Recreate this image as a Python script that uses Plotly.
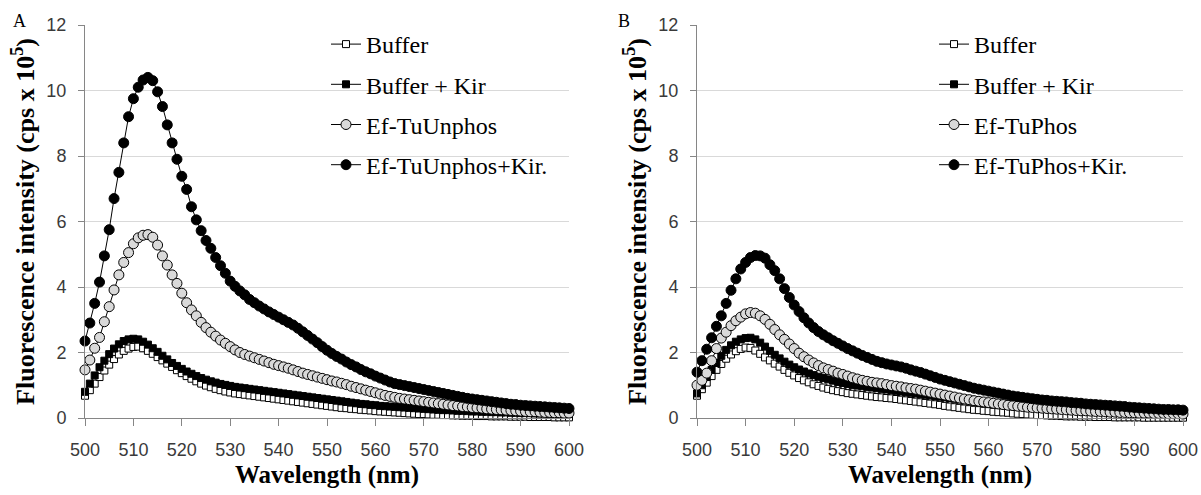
import plotly.graph_objects as go

# ---------------- data ----------------
wavelength = list(range(500, 601))

# Panel A
a_buffer = [0.68, 0.85, 1.05, 1.25, 1.45, 1.63, 1.80, 1.94, 2.05, 2.12, 2.17, 2.18, 2.13, 2.05, 1.96, 1.86, 1.76, 1.66, 1.56, 1.46,
            1.37, 1.28, 1.20, 1.12, 1.05, 0.99, 0.94, 0.89, 0.85, 0.81, 0.78, 0.75, 0.73, 0.71, 0.69, 0.67, 0.65, 0.63, 0.61, 0.59,
            0.57, 0.55, 0.53, 0.51, 0.49, 0.47, 0.45, 0.43, 0.41, 0.39, 0.37, 0.35, 0.33, 0.31, 0.30, 0.28, 0.27, 0.25, 0.24, 0.23,
            0.21, 0.20, 0.19, 0.18, 0.17, 0.16, 0.15, 0.14, 0.13, 0.12, 0.12, 0.11, 0.10, 0.10, 0.09, 0.09, 0.08, 0.08, 0.07, 0.07,
            0.07, 0.06, 0.06, 0.06, 0.05, 0.05, 0.05, 0.05, 0.04, 0.04, 0.04, 0.04, 0.03, 0.03, 0.03, 0.03, 0.03, 0.02, 0.02, 0.02,
            0.02]
a_buffer_kir = [0.80, 1.05, 1.30, 1.55, 1.75, 1.95, 2.12, 2.25, 2.35, 2.40, 2.42, 2.40, 2.33, 2.24, 2.13, 2.02, 1.90, 1.79, 1.68, 1.59,
                1.50, 1.42, 1.35, 1.28, 1.22, 1.17, 1.12, 1.08, 1.04, 1.01, 0.98, 0.95, 0.93, 0.91, 0.89, 0.87, 0.85, 0.83, 0.81, 0.79,
                0.77, 0.75, 0.73, 0.71, 0.69, 0.67, 0.65, 0.63, 0.61, 0.59, 0.57, 0.55, 0.53, 0.51, 0.49, 0.47, 0.45, 0.43, 0.42, 0.40,
                0.39, 0.37, 0.36, 0.35, 0.34, 0.33, 0.32, 0.31, 0.30, 0.29, 0.28, 0.27, 0.26, 0.25, 0.24, 0.24, 0.23, 0.22, 0.22, 0.21,
                0.20, 0.20, 0.19, 0.19, 0.18, 0.18, 0.17, 0.17, 0.16, 0.16, 0.15, 0.15, 0.15, 0.14, 0.14, 0.14, 0.13, 0.13, 0.13, 0.12,
                0.12]
a_eftu = [1.47, 1.77, 2.13, 2.46, 2.94, 3.40, 3.91, 4.37, 4.75, 5.05, 5.32, 5.50, 5.58, 5.60, 5.52, 5.28, 4.95, 4.67, 4.37, 4.11,
          3.81, 3.52, 3.30, 3.12, 2.92, 2.76, 2.62, 2.50, 2.38, 2.28, 2.18, 2.08, 2.00, 1.94, 1.89, 1.84, 1.79, 1.74, 1.69, 1.64,
          1.60, 1.56, 1.52, 1.47, 1.42, 1.37, 1.33, 1.29, 1.25, 1.21, 1.17, 1.13, 1.10, 1.06, 1.02, 0.97, 0.93, 0.89, 0.85, 0.81,
          0.77, 0.73, 0.69, 0.66, 0.63, 0.60, 0.58, 0.56, 0.54, 0.52, 0.50, 0.48, 0.46, 0.44, 0.42, 0.40, 0.38, 0.37, 0.35, 0.34,
          0.32, 0.31, 0.30, 0.28, 0.27, 0.26, 0.25, 0.24, 0.23, 0.22, 0.21, 0.20, 0.19, 0.19, 0.18, 0.17, 0.17, 0.16, 0.16, 0.15,
          0.15]
a_eftu_kir = [2.35, 2.90, 3.50, 4.15, 4.95, 5.75, 6.70, 7.50, 8.40, 9.20, 9.75, 10.10, 10.32, 10.40, 10.30, 9.96, 9.51, 8.95, 8.40, 7.90,
              7.38, 6.98, 6.45, 6.05, 5.72, 5.42, 5.18, 4.90, 4.65, 4.42, 4.18, 4.02, 3.88, 3.76, 3.62, 3.52, 3.42, 3.33, 3.24, 3.16,
              3.08, 3.00, 2.92, 2.84, 2.74, 2.63, 2.52, 2.41, 2.30, 2.18, 2.07, 1.97, 1.88, 1.80, 1.71, 1.63, 1.56, 1.48, 1.41, 1.35,
              1.28, 1.22, 1.16, 1.10, 1.05, 1.02, 0.99, 0.96, 0.93, 0.90, 0.87, 0.84, 0.81, 0.78, 0.75, 0.72, 0.69, 0.66, 0.63, 0.60,
              0.58, 0.56, 0.54, 0.52, 0.50, 0.48, 0.46, 0.44, 0.42, 0.41, 0.39, 0.38, 0.37, 0.36, 0.35, 0.34, 0.33, 0.32, 0.31, 0.30,
              0.29]

# Panel B
b_buffer = [0.68, 0.88, 1.08, 1.28, 1.47, 1.65, 1.81, 1.94, 2.04, 2.11, 2.15, 2.14, 2.06, 1.96, 1.85, 1.76, 1.66, 1.57, 1.47, 1.38,
            1.30, 1.22, 1.15, 1.09, 1.03, 0.98, 0.93, 0.89, 0.85, 0.82, 0.79, 0.76, 0.74, 0.72, 0.70, 0.68, 0.66, 0.64, 0.63, 0.61,
            0.60, 0.58, 0.56, 0.54, 0.52, 0.50, 0.48, 0.46, 0.44, 0.42, 0.40, 0.37, 0.35, 0.33, 0.31, 0.29, 0.27, 0.25, 0.24, 0.22,
            0.21, 0.19, 0.18, 0.17, 0.16, 0.14, 0.13, 0.12, 0.11, 0.10, 0.09, 0.09, 0.08, 0.07, 0.07, 0.06, 0.05, 0.05, 0.05, 0.04,
            0.04, 0.04, 0.03, 0.03, 0.03, 0.03, 0.02, 0.02, 0.02, 0.02, 0.02, 0.02, 0.01, 0.01, 0.01, 0.01, 0.01, 0.01, 0.01, 0.01,
            0.01]
b_buffer_kir = [0.75, 1.00, 1.25, 1.47, 1.68, 1.90, 2.08, 2.22, 2.33, 2.40, 2.44, 2.45, 2.40, 2.30, 2.18, 2.05, 1.93, 1.82, 1.72, 1.63,
                1.55, 1.48, 1.42, 1.36, 1.31, 1.26, 1.22, 1.18, 1.14, 1.10, 1.07, 1.04, 1.01, 0.99, 0.97, 0.95, 0.93, 0.91, 0.89, 0.87,
                0.85, 0.83, 0.81, 0.79, 0.77, 0.75, 0.73, 0.71, 0.69, 0.67, 0.65, 0.63, 0.61, 0.59, 0.57, 0.55, 0.53, 0.51, 0.49, 0.47,
                0.45, 0.44, 0.42, 0.41, 0.39, 0.38, 0.37, 0.35, 0.34, 0.33, 0.32, 0.31, 0.30, 0.29, 0.28, 0.27, 0.27, 0.26, 0.25, 0.24,
                0.24, 0.23, 0.22, 0.22, 0.21, 0.21, 0.20, 0.20, 0.19, 0.19, 0.18, 0.18, 0.17, 0.17, 0.17, 0.16, 0.16, 0.16, 0.15, 0.15,
                0.15]
b_eftu = [1.00, 1.15, 1.37, 1.75, 2.12, 2.44, 2.62, 2.82, 2.97, 3.08, 3.18, 3.22, 3.20, 3.12, 3.01, 2.86, 2.70, 2.54, 2.40, 2.26,
          2.12, 1.98, 1.87, 1.77, 1.68, 1.60, 1.53, 1.48, 1.43, 1.37, 1.33, 1.28, 1.23, 1.19, 1.15, 1.12, 1.09, 1.07, 1.05, 1.02,
          0.99, 0.97, 0.95, 0.92, 0.90, 0.88, 0.85, 0.82, 0.79, 0.76, 0.73, 0.70, 0.67, 0.64, 0.61, 0.58, 0.56, 0.53, 0.51, 0.49,
          0.47, 0.45, 0.43, 0.41, 0.39, 0.38, 0.36, 0.35, 0.33, 0.32, 0.31, 0.30, 0.29, 0.28, 0.27, 0.26, 0.25, 0.24, 0.23, 0.22,
          0.22, 0.21, 0.20, 0.20, 0.19, 0.18, 0.18, 0.17, 0.17, 0.16, 0.16, 0.15, 0.15, 0.15, 0.14, 0.14, 0.14, 0.13, 0.13, 0.13,
          0.12]
b_eftu_kir = [1.40, 1.75, 2.10, 2.45, 2.80, 3.12, 3.50, 3.90, 4.25, 4.55, 4.75, 4.90, 4.96, 4.95, 4.88, 4.68, 4.50, 4.25, 3.95, 3.68,
              3.45, 3.25, 3.06, 2.90, 2.76, 2.64, 2.54, 2.45, 2.36, 2.28, 2.20, 2.12, 2.05, 1.98, 1.91, 1.85, 1.79, 1.73, 1.69, 1.65,
              1.62, 1.59, 1.56, 1.52, 1.47, 1.43, 1.39, 1.34, 1.29, 1.24, 1.19, 1.15, 1.11, 1.07, 1.03, 0.99, 0.95, 0.91, 0.88, 0.85,
              0.82, 0.79, 0.76, 0.73, 0.70, 0.67, 0.65, 0.63, 0.61, 0.59, 0.57, 0.55, 0.54, 0.52, 0.51, 0.50, 0.49, 0.47, 0.46, 0.45,
              0.43, 0.42, 0.41, 0.40, 0.39, 0.38, 0.37, 0.36, 0.35, 0.33, 0.32, 0.31, 0.30, 0.29, 0.28, 0.27, 0.26, 0.26, 0.25, 0.25,
              0.24]

names_a = ["Buffer", "Buffer + Kir", "Ef-TuUnphos", "Ef-TuUnphos+Kir."]
names_b = ["Buffer", "Buffer + Kir", "Ef-TuPhos", "Ef-TuPhos+Kir."]

x_ticks = [500, 510, 520, 530, 540, 550, 560, 570, 580, 590, 600]
y_ticks = [0, 2, 4, 6, 8, 10, 12]

# ---------------- styles ----------------
styles = [
    dict(symbol="square", size=7, color="white"),
    dict(symbol="square", size=7, color="black"),
    dict(symbol="circle", size=10, color="#d9d9d9"),
    dict(symbol="circle", size=10, color="black"),
]

fig = go.Figure()

panels = [
    ("x", "y", "legend", names_a, [a_buffer, a_buffer_kir, a_eftu, a_eftu_kir], "A"),
    ("x2", "y2", "legend2", names_b, [b_buffer, b_buffer_kir, b_eftu, b_eftu_kir], "B"),
]
for xa, ya, leg, names, series, tag in panels:
    for i, (nm, vals) in enumerate(zip(names, series)):
        st = styles[i]
        fig.add_trace(go.Scatter(
            x=wavelength, y=vals, name=nm, mode="lines+markers",
            xaxis=xa, yaxis=ya, legend=leg, legendgroup=f"{tag}{i}",
            cliponaxis=False,
            line=dict(color="black", width=1),
            marker=dict(symbol=st["symbol"], size=st["size"], color=st["color"],
                        line=dict(color="black", width=1)),
        ))

W, H = 1201, 495
ml, mr, mt, mb = 85, 18, 25, 77
pw = W - ml - mr
ph = H - mt - mb

SERIF = "Liberation Serif"
tick_font = dict(family="Liberation Sans", size=18, color="#3a3a3a")
title_font = dict(family=SERIF, size=25, color="black")
ytitle_font = dict(family=SERIF, size=26, color="black")
leg_font = dict(family=SERIF, size=24, color="black")

def xaxis_cfg(domain):
    return dict(
        domain=domain, range=[500, 600], tickvals=x_ticks, ticktext=[str(v) for v in x_ticks],
        showgrid=False, zeroline=False, showline=True, linecolor="#868686", linewidth=1,
        ticks="outside", ticklen=7, tickcolor="#868686", tickfont=tick_font,
        ticklabelstandoff=8,
        title=dict(text="<b>Wavelength (nm)</b>", font=title_font, standoff=6),
    )

def yaxis_cfg(anchor):
    return dict(
        anchor=anchor, domain=[0, 1], range=[0, 12], tickvals=y_ticks,
        showgrid=True, gridcolor="#d9d9d9", gridwidth=1, zeroline=False,
        showline=True, linecolor="#868686", linewidth=1,
        ticks="outside", ticklen=6, tickcolor="#868686", tickfont=tick_font,
        ticklabelstandoff=8,
        title=dict(text="<b>Fluorescence intensity (cps x 10<sup>5</sup>)</b>", font=ytitle_font, standoff=4),
    )

xa_dom = [0, (569 - ml) / pw]
xb_dom = [(697 - ml) / pw, (1183 - ml) / pw]

leg_common = dict(xanchor="left", yanchor="top", font=leg_font, bgcolor="rgba(0,0,0,0)",
                  tracegroupgap=6, itemwidth=30, traceorder="grouped")

fig.update_layout(
    width=W, height=H,
    margin=dict(l=ml, r=mr, t=mt, b=mb, autoexpand=False),
    paper_bgcolor="white", plot_bgcolor="white",
    showlegend=True,
    xaxis=xaxis_cfg(xa_dom),
    yaxis=yaxis_cfg("x"),
    xaxis2=dict(xaxis_cfg(xb_dom), anchor="y2"),
    yaxis2=yaxis_cfg("x2"),
    legend=dict(leg_common, x=(326 - ml) / pw, y=1 + (25 - 22) / ph),
    legend2=dict(leg_common, x=(934 - ml) / pw, y=1 + (25 - 22) / ph),
    annotations=[
        dict(text="A", x=(19 - ml) / pw, y=1 + (25 - 21) / ph, xref="paper", yref="paper",
             showarrow=False, xanchor="center", yanchor="middle",
             font=dict(family=SERIF, size=18, color="black")),
        dict(text="B", x=(624 - ml) / pw, y=1 + (25 - 21) / ph, xref="paper", yref="paper",
             showarrow=False, xanchor="center", yanchor="middle",
             font=dict(family=SERIF, size=18, color="black")),
    ],
)

fig.write_html("out.html")
